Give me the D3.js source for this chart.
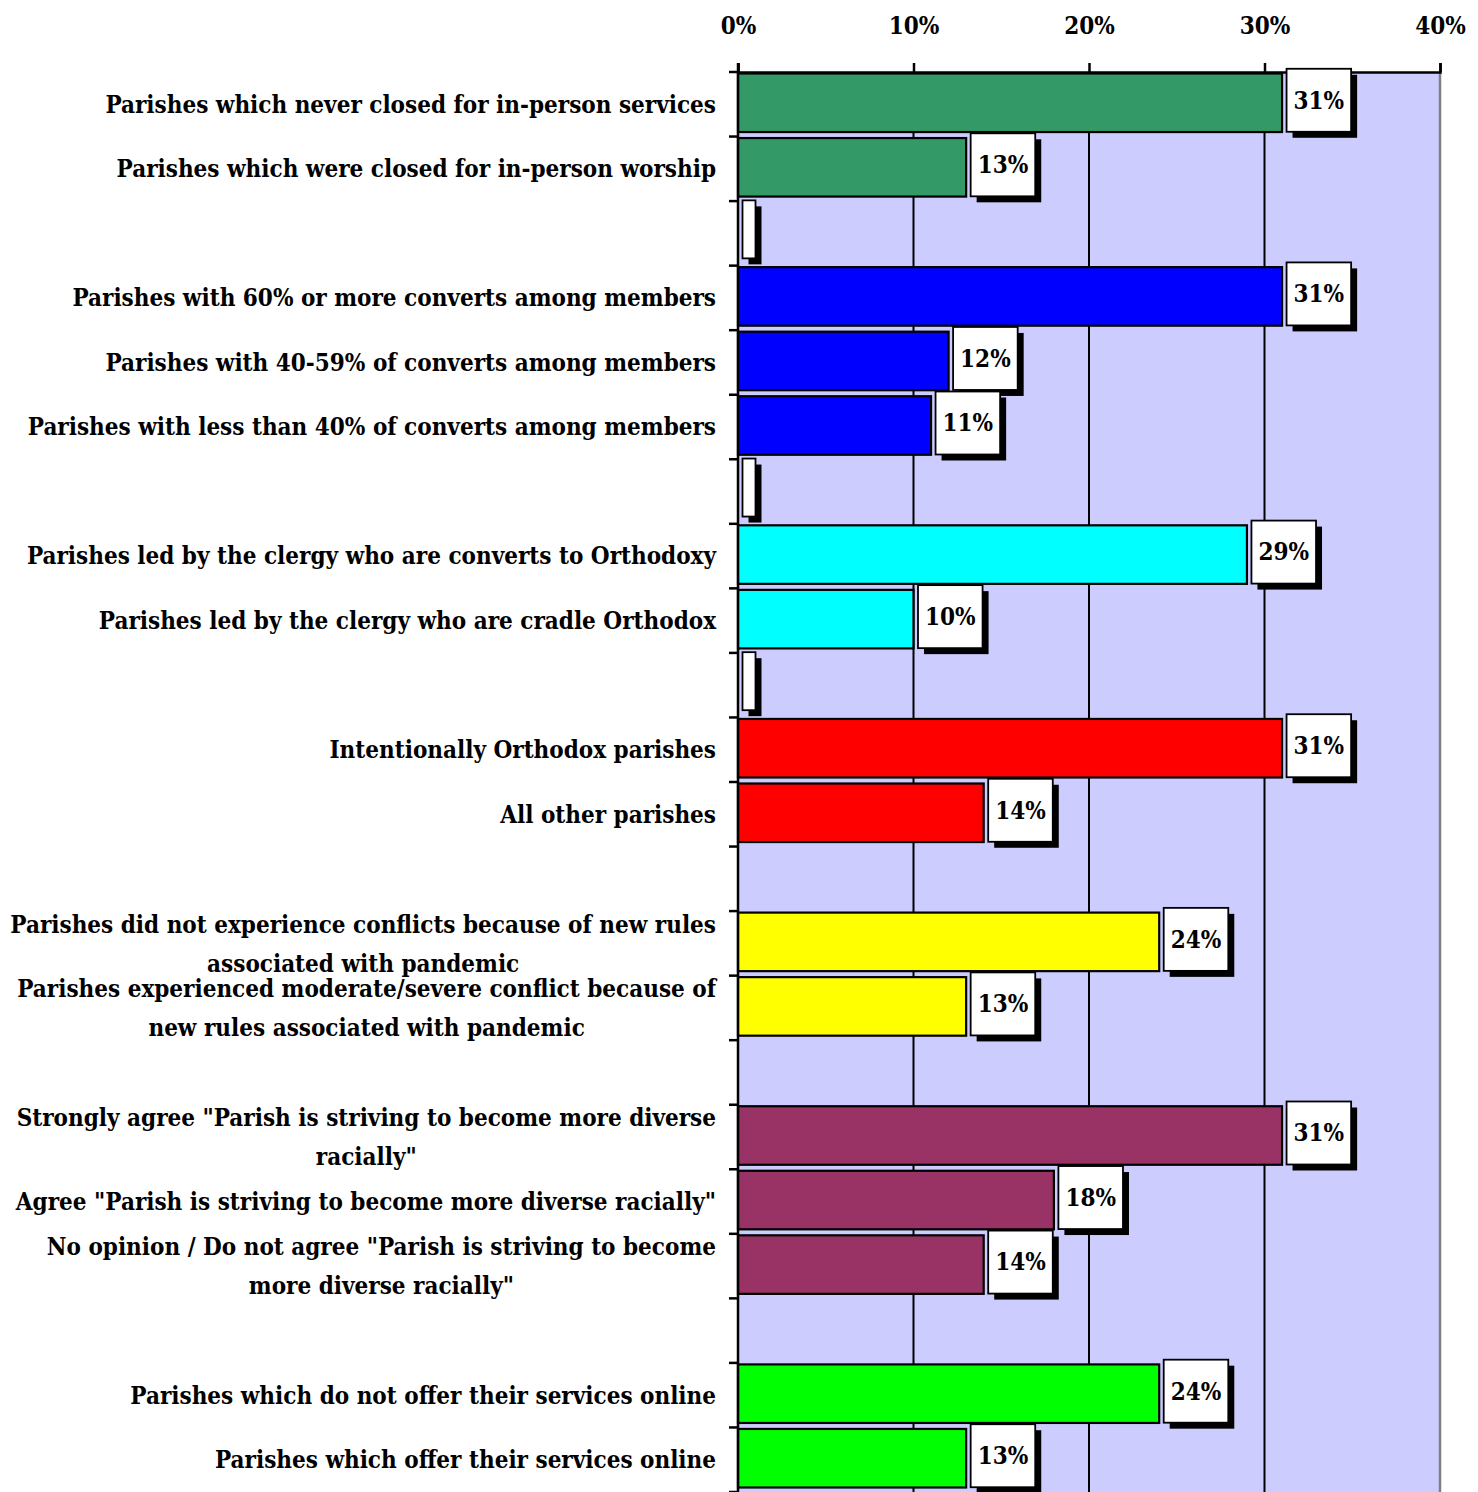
<!DOCTYPE html>
<html>
<head>
<meta charset="utf-8">
<script src="https://cdn.jsdelivr.net/npm/d3@7"></script>
<style>
  html, body { margin: 0; padding: 0; background: #ffffff; }
  svg { display: block; }
  text { font-family: "Palatino Linotype", "Book Antiqua", "DejaVu Serif Condensed", "DejaVu Serif", serif; font-weight: bold; fill: #000; }
</style>
</head>
<body>
<script>
// Category labels, top to bottom ("" = spacer row between groups). Multi-line labels use "\n".
const categories = [
  "Parishes which never closed for in-person services",
  "Parishes which were closed for in-person worship",
  "",
  "Parishes with 60% or more converts among members",
  "Parishes with 40-59% of converts among members",
  "Parishes with less than 40% of converts among members",
  "",
  "Parishes led by the clergy who are converts to Orthodoxy",
  "Parishes led by the clergy who are cradle Orthodox",
  "",
  "Intentionally Orthodox parishes",
  "All other parishes",
  "",
  "Parishes did not experience conflicts because of new rules\nassociated with pandemic",
  "Parishes experienced moderate/severe conflict because of\nnew rules associated with pandemic",
  "",
  "Strongly agree \"Parish is striving to become more diverse\nracially\"",
  "Agree \"Parish is striving to become more diverse racially\"",
  "No opinion / Do not agree \"Parish is striving to become\nmore diverse racially\"",
  "",
  "Parishes which do not offer their services online",
  "Parishes which offer their services online"
];

// Percent values per row (null = spacer row with no bar)
const values = [31, 13, 0, 31, 12, 11, 0, 29, 10, 0, 31, 14, null, 24, 13, null, 31, 18, 14, null, 24, 13];

// Group index per row, used for bar colour
const groups = [0, 0, null, 1, 1, 1, null, 2, 2, null, 3, 3, null, 4, 4, null, 5, 5, 5, null, 6, 6];
const groupColors = ["#339966", "#0000FF", "#00FFFF", "#FF0000", "#FFFF00", "#993366", "#00FF00"];

// Axis ticks
const tickValues = [0, 10, 20, 30, 40];

const W = 1478, H = 1492;
const plot = { left: 738, right: 1440, top: 72, bottom: 1492 };
const FONT = "\"Palatino Linotype\", \"Book Antiqua\", \"DejaVu Serif Condensed\", \"DejaVu Serif\", serif";

const svg = d3.select("body").append("svg").attr("width", W).attr("height", H);

const x = d3.scaleLinear().domain([0, 40]).range([plot.left, plot.right]);
const y = d3.scaleBand().domain(d3.range(categories.length)).range([plot.top, plot.bottom]).paddingInner(0).paddingOuter(0);
const bw = y.bandwidth();

// Plot background
svg.append("rect")
  .attr("x", plot.left).attr("y", plot.top)
  .attr("width", plot.right - plot.left).attr("height", plot.bottom - plot.top)
  .attr("fill", "#CCCCFF");

// Vertical gridlines
svg.append("g").selectAll("line")
  .data(tickValues.filter(d => d > 0 && d < 40))
  .join("line")
  .attr("x1", d => x(d)).attr("x2", d => x(d))
  .attr("y1", plot.top).attr("y2", plot.bottom)
  .attr("stroke", "#000").attr("stroke-width", 2);

// Right border
svg.append("line")
  .attr("x1", plot.right).attr("x2", plot.right)
  .attr("y1", plot.top).attr("y2", plot.bottom)
  .attr("stroke", "#808080").attr("stroke-width", 2.5);

// Bars
const barTop = i => y(i) + 1.5;
const barH = bw - 6;
const rows = d3.range(categories.length);

svg.append("g").selectAll("rect")
  .data(rows.filter(i => values[i] > 0))
  .join("rect")
  .attr("x", x(0))
  .attr("y", i => barTop(i))
  .attr("width", i => x(values[i]) - x(0))
  .attr("height", barH)
  .attr("fill", i => groupColors[groups[i]])
  .attr("stroke", "#000").attr("stroke-width", 2.2);

// Top axis
const axisTop = d3.axisTop(x).tickValues(tickValues).tickFormat(d => d + "%").tickSize(9).tickPadding(29);
const gx = svg.append("g").attr("transform", `translate(0,${plot.top})`).call(axisTop);
gx.attr("font-family", null).attr("font-size", null);
gx.select(".domain").attr("stroke", "#000").attr("stroke-width", 2.5);
gx.selectAll(".tick line").attr("stroke", "#000").attr("stroke-width", 2.5);
gx.selectAll(".tick text")
  .style("font-family", FONT)
  .style("font-weight", "bold")
  .style("font-size", "24px");

// Left axis line and row-boundary ticks
svg.append("line")
  .attr("x1", plot.left).attr("x2", plot.left)
  .attr("y1", plot.top - 9).attr("y2", plot.bottom)
  .attr("stroke", "#000").attr("stroke-width", 2.5);
svg.append("g").selectAll("line")
  .data(d3.range(categories.length + 1))
  .join("line")
  .attr("x1", plot.left - 9).attr("x2", plot.left)
  .attr("y1", i => plot.top + i * bw).attr("y2", i => plot.top + i * bw)
  .attr("stroke", "#000").attr("stroke-width", 2.5);

// Category labels, block right-aligned to the axis, lines centred within the block
const labelG = svg.append("g");
rows.forEach(i => {
  if (!categories[i]) return;
  const lines = categories[i].split("\n");
  const cy = y(i) + bw / 2;
  const g = labelG.append("g");
  const texts = lines.map((ln, k) => {
    const dy = lines.length === 1 ? 0 : (k === 0 ? -19 : 20);
    return g.append("text")
      .attr("y", cy + dy)
      .attr("dy", "0.35em")
      .attr("font-size", 24)
      .attr("text-anchor", "middle")
      .text(ln);
  });
  const widths = texts.map(t => t.node().getComputedTextLength());
  const maxW = d3.max(widths);
  const cx = 716 - maxW / 2;
  texts.forEach(t => t.attr("x", cx));
});

// Value label boxes with drop shadows
const boxG = svg.append("g");
rows.filter(i => values[i] !== null).forEach(i => {
  const v = values[i];
  const hasText = v > 0;
  const g = boxG.append("g");
  const cy = y(i) + bw / 2 - 4;
  const t = g.append("text")
    .attr("font-size", 24)
    .attr("text-anchor", "middle")
    .attr("dy", "0.35em")
    .text(hasText ? v + "%" : "");
  const tw = hasText ? t.node().getComputedTextLength() : 0;
  const bwid = hasText ? Math.max(63, tw + 14) : 13;
  const bh = hasText ? 63 : 58;
  const bx = x(v) + 4.5;
  const by = cy - bh / 2;
  g.insert("rect", "text")
    .attr("x", bx + 6).attr("y", by + 6)
    .attr("width", bwid).attr("height", bh)
    .attr("fill", "#000");
  g.insert("rect", "text")
    .attr("x", bx).attr("y", by)
    .attr("width", bwid).attr("height", bh)
    .attr("fill", "#fff").attr("stroke", "#000").attr("stroke-width", 1.8);
  t.attr("x", bx + bwid / 2).attr("y", cy);
});
</script>
</body>
</html>
